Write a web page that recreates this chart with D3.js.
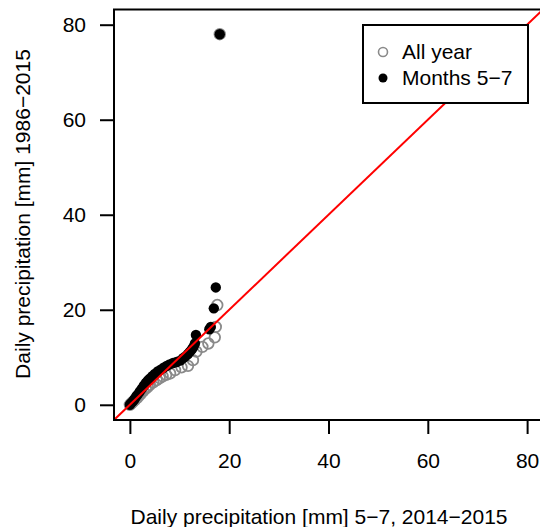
<!DOCTYPE html>
<html>
<head>
<meta charset="utf-8">
<script src="https://cdn.jsdelivr.net/npm/d3@7"></script>
<style>
    body { margin: 0; background: #fff; }
    svg text { font-family: "Liberation Sans", Arial, sans-serif; fill: #000; }
</style>
</head>
<body>
<svg id="chart"></svg>
<script>
// Quantiles, 2014-2015 (x) vs 1986-2015 all year (y)
const allYearX = [0, 0.3, 0.6, 1.0, 1.4, 1.8, 2.2, 2.7, 3.2, 3.6, 4.0, 4.7, 5.4, 6.0, 6.6, 7.3, 8.1, 9.1, 10.4, 11.7, 12.7, 13.4, 14.6, 15.8, 17.1, 17.3, 17.6, 18.1];
const allYearY = [0, 0.3, 0.6, 1.0, 1.4, 1.9, 2.3, 2.9, 3.4, 3.8, 4.2, 4.7, 5.2, 5.6, 6.0, 6.3, 6.6, 7.3, 7.9, 8.2, 9.4, 11.2, 12.2, 12.9, 14.2, 16.4, 21.0, 78.0];

// Quantiles, 2014-2015 (x) vs 1986-2015 months 5-7 (y)
const summerX = [0, 0.2, 0.5, 0.8, 1.0, 1.3, 1.6, 2.0, 2.4, 2.8, 3.2, 3.6, 4.0, 4.5, 5.0, 5.6, 6.2, 6.8, 7.4, 8.0, 8.7, 9.4, 10.1, 10.7, 11.2, 11.7, 12.1, 12.5, 12.8, 13.1, 13.3, 16.0, 16.3, 16.9, 17.3, 18.1];
const summerY = [0, 0.3, 0.6, 1.0, 1.3, 1.8, 2.2, 2.8, 3.4, 4.0, 4.6, 5.1, 5.5, 6.0, 6.5, 7.0, 7.4, 7.8, 8.2, 8.5, 8.8, 9.0, 9.3, 9.8, 10.2, 10.7, 11.2, 11.7, 12.2, 12.9, 14.7, 15.9, 16.4, 20.3, 24.7, 78.0];

const xTicks = [0, 20, 40, 60, 80];
const yTicks = [0, 20, 40, 60, 80];
const axisRange = [-3.2, 83.2];
const legendLabels = ['All year', 'Months 5\u22127'];

const xTitle = 'Daily precipitation [mm] 5\u22127, 2014\u22122015';
const yTitle = 'Daily precipitation [mm] 1986\u22122015';

const config = {
    containerWidth: 540,
    containerHeight: 527,
    margin: {top: 9.5, right: -3, bottom: 107, left: 114},
    fontSize: 21
};

const width = config.containerWidth - config.margin.left - config.margin.right;
const height = config.containerHeight - config.margin.top - config.margin.bottom;

const svg = d3.select('#chart')
    .attr('width', config.containerWidth)
    .attr('height', config.containerHeight);

const chart = svg.append('g')
    .attr('transform', `translate(${config.margin.left},${config.margin.top})`);

const xScale = d3.scaleLinear().domain(axisRange).range([0, width]);
const yScale = d3.scaleLinear().domain(axisRange).range([height, 0]);

chart.append('clipPath')
    .attr('id', 'plot-clip')
    .append('rect')
    .attr('width', width)
    .attr('height', height);

const plot = chart.append('g').attr('clip-path', 'url(#plot-clip)');

const allYear = allYearX.map((x, i) => ({x, y: allYearY[i]}));
const summer = summerX.map((x, i) => ({x, y: summerY[i]}));

// All year: open grey circles
plot.selectAll('.all-year')
    .data(allYear)
    .join('circle')
    .attr('class', 'all-year')
    .attr('cx', d => xScale(d.x))
    .attr('cy', d => yScale(d.y))
    .attr('r', 5.3)
    .attr('fill', 'none')
    .attr('stroke', '#8a8a8a')
    .attr('stroke-width', 1.8);

// Months 5-7: filled black
plot.selectAll('.summer')
    .data(summer)
    .join('circle')
    .attr('class', 'summer')
    .attr('cx', d => xScale(d.x))
    .attr('cy', d => yScale(d.y))
    .attr('r', 5.2)
    .attr('fill', '#000');

// 1:1 line
plot.append('line')
    .attr('x1', xScale(axisRange[0]))
    .attr('y1', yScale(axisRange[0]))
    .attr('x2', xScale(axisRange[1]))
    .attr('y2', yScale(axisRange[1]))
    .attr('stroke', '#ff0000')
    .attr('stroke-width', 2);

// Axes
const xAxis = d3.axisBottom(xScale).tickValues(xTicks).tickSize(14).tickPadding(19);
const yAxis = d3.axisLeft(yScale).tickValues(yTicks).tickSize(14).tickPadding(14);

const xAxisG = chart.append('g')
    .attr('transform', `translate(0,${height})`)
    .call(xAxis);
const yAxisG = chart.append('g').call(yAxis);

[xAxisG, yAxisG].forEach(g => {
    g.select('.domain').remove();
    g.selectAll('.tick line').attr('stroke', '#000').attr('stroke-width', 2);
    g.selectAll('.tick text')
        .attr('fill', '#000')
        .style('font-size', config.fontSize + 'px')
        .style('font-family', '"Liberation Sans", Arial, sans-serif');
});

// Plot box
chart.append('rect')
    .attr('width', width)
    .attr('height', height)
    .attr('fill', 'none')
    .attr('stroke', '#000')
    .attr('stroke-width', 2);

// Legend
const legend = svg.append('g').attr('transform', 'translate(363,25)');
legend.append('rect')
    .attr('width', 165)
    .attr('height', 78)
    .attr('fill', '#fff')
    .attr('stroke', '#000')
    .attr('stroke-width', 2);

legend.selectAll('.legend-symbol')
    .data(legendLabels)
    .join('circle')
    .attr('class', 'legend-symbol')
    .attr('cx', 20)
    .attr('cy', (d, i) => 27 + i * 26)
    .attr('r', 4.5)
    .attr('fill', (d, i) => i === 0 ? 'none' : '#000')
    .attr('stroke', (d, i) => i === 0 ? '#8a8a8a' : 'none')
    .attr('stroke-width', 1.6);

legend.selectAll('.legend-label')
    .data(legendLabels)
    .join('text')
    .attr('class', 'legend-label')
    .attr('x', 39)
    .attr('y', (d, i) => 34 + i * 26)
    .style('font-size', config.fontSize + 'px')
    .text(d => d);

// Axis titles
svg.append('text')
    .attr('x', 319)
    .attr('y', 524)
    .attr('text-anchor', 'middle')
    .style('font-size', config.fontSize + 'px')
    .text(xTitle);

svg.append('text')
    .attr('transform', 'translate(30,214) rotate(-90)')
    .attr('text-anchor', 'middle')
    .style('font-size', config.fontSize + 'px')
    .text(yTitle);
</script>
</body>
</html>
